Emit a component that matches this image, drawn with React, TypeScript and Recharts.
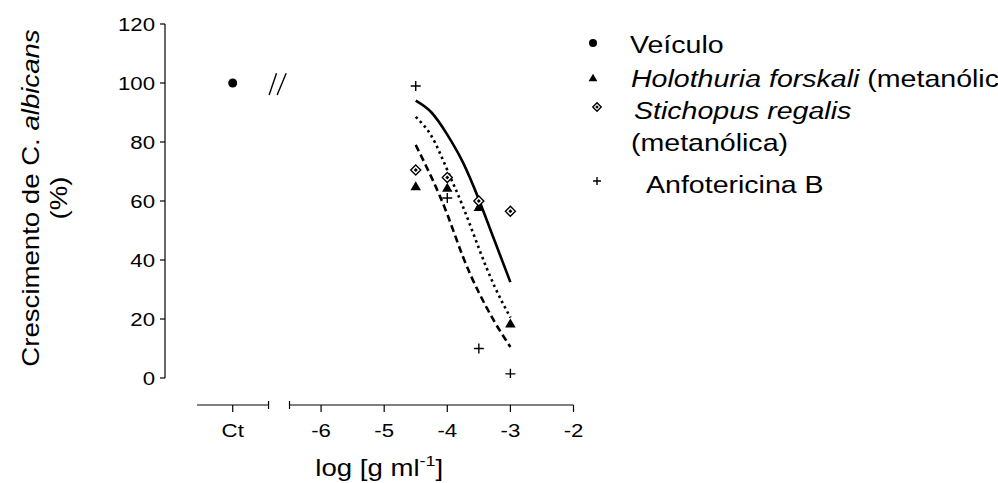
import React from "react";
import { ComposedChart, Line, Scatter, XAxis, YAxis, ReferenceLine, Label } from "recharts";

const FONT = "'Liberation Sans', Arial, Helvetica, sans-serif";
const STRETCH = 1.2; // text in the original is drawn wide

// position of the "Ct" (control) column on the log axis
const CT_X = -7.4;

const vehicle = [{ x: CT_X, y: 100 }];

const doses = [-4.5, -4, -3.5, -3];
const holothuria = [65, 64.5, 58, 18.5];
const stichopus = [70.5, 68, 60, 56.5];
const anfotericina = [99, 61, 10, 1.4];

// fitted curves
const curveX = [-4.5, -4.25, -4, -3.75, -3.5, -3.25, -3];
const curveSolid = [94, 90, 82.5, 73, 60.5, 46.5, 32.5];
const curveDotted = [88.5, 82, 70.5, 58, 44, 31, 20.5];
const curveDashed = [79, 68, 55.5, 41, 29, 19, 10.5];

const xTicks = [CT_X, -6, -5, -4, -3, -2];
const yTicks = [0, 20, 40, 60, 80, 100, 120];

const X_MIN = -8.473;
const CT_LEFT = -7.965;
const CT_RIGHT = -6.832;
const MAIN_LEFT = -6.5;
const AXIS_Y = -9.15; // detached x axis sits under y = 0
const CAP = 1.36;

const toPoints = (xs: number[], ys: number[]) => xs.map((x, i) => ({ x, y: ys[i] }));

const CircleMark = ({ cx, cy, r = 4.5 }: any) => <circle cx={cx} cy={cy} r={r} fill="#000" />;

const TriangleMark = ({ cx, cy, s = 5 }: any) => (
  <path
    d={`M${cx},${cy - s} L${cx + s * 1.05},${cy + s * 0.8} L${cx - s * 1.05},${cy + s * 0.8} Z`}
    fill="#000"
  />
);

const DiamondMark = ({ cx, cy, s = 5 }: any) => (
  <g>
    <path
      d={`M${cx},${cy - s} L${cx + s},${cy} L${cx},${cy + s} L${cx - s},${cy} Z`}
      fill="#fff"
      stroke="#000"
      strokeWidth={1.4}
    />
    <path
      d={`M${cx},${cy - s * 0.4} L${cx + s * 0.4},${cy} L${cx},${cy + s * 0.4} L${cx - s * 0.4},${cy} Z`}
      fill="#000"
    />
  </g>
);

const PlusMark = ({ cx, cy, s = 5 }: any) => (
  <path d={`M${cx - s},${cy} H${cx + s} M${cx},${cy - s} V${cy + s}`} stroke="#000" strokeWidth={1.4} />
);

const XTick = ({ x, y, payload }: any) => {
  const label = payload.value === CT_X ? "Ct" : String(payload.value);
  return (
    <g>
      <line x1={x} x2={x} y1={y + 27} y2={y + 34} stroke="#000" strokeWidth={1.2} />
      <text
        transform={`translate(${x},${y + 59}) scale(${STRETCH},1)`}
        textAnchor="middle"
        fontSize={18.5}
        fontFamily={FONT}
        fill="#000"
      >
        {label}
      </text>
    </g>
  );
};

const YTick = ({ x, y, payload }: any) => (
  <text
    transform={`translate(${x},${y}) scale(${STRETCH},1)`}
    textAnchor="end"
    dy="0.36em"
    fontSize={18.5}
    fontFamily={FONT}
    fill="#000"
  >
    {payload.value}
  </text>
);

const XTitle = ({ viewBox }: any) => {
  const cx = viewBox.x + viewBox.width / 2 + 10;
  const by = viewBox.y + 98;
  return (
    <text
      transform={`translate(${cx},${by}) scale(${STRETCH},1)`}
      textAnchor="middle"
      fontSize={23}
      fontFamily={FONT}
      fill="#000"
    >
      log [g ml
      <tspan dy={-10} fontSize={15}>-1</tspan>
      <tspan dy={10}>]</tspan>
    </text>
  );
};

const YTitle = ({ viewBox }: any) => {
  const cy = viewBox.y + viewBox.height / 2 - 3;
  return (
    <g fontSize={23} fontFamily={FONT} fill="#000">
      <text transform={`translate(38.5,${cy}) rotate(-90) scale(${STRETCH},1)`} textAnchor="middle">
        Crescimento de C. <tspan fontStyle="italic">albicans</tspan>
      </text>
      <text transform={`translate(67,${cy}) rotate(-90) scale(${STRETCH},1)`} textAnchor="middle">
        (%)
      </text>
    </g>
  );
};

const LegendText = ({ x, y, children }: any) => (
  <text
    transform={`translate(${x},${y}) scale(${STRETCH},1)`}
    fontSize={23.8}
    fontFamily={FONT}
    fill="#000"
  >
    {children}
  </text>
);

const ChartLegend = () => (
  <svg width={998} height={483} style={{ position: "absolute", left: 0, top: 0, pointerEvents: "none" }}>
    <CircleMark cx={593} cy={43} r={4} />
    <LegendText x={630} y={53}>Veículo</LegendText>
    <TriangleMark cx={593} cy={78} s={4.2} />
    <LegendText x={631} y={86.5}>
      <tspan fontStyle="italic">Holothuria forskali</tspan> (metanólica)
    </LegendText>
    <DiamondMark cx={597} cy={107} s={4.2} />
    <LegendText x={634} y={118.5}>
      <tspan fontStyle="italic">Stichopus regalis</tspan>
    </LegendText>
    <LegendText x={631} y={150.5}>(metanólica)</LegendText>
    <PlusMark cx={597} cy={181} s={4} />
    <LegendText x={646} y={193}>Anfotericina B</LegendText>
  </svg>
);

const App: React.FC = () => {
  return (
    <div
      style={{
        position: "absolute",
        left: 0,
        top: 0,
        width: 998,
        height: 483,
        overflow: "hidden",
        background: "#fff",
        fontFamily: FONT,
      }}
    >
      <ComposedChart width={998} height={483} margin={{ top: 24, right: 424.5, bottom: 0, left: 85 }}>
        <XAxis
          type="number"
          dataKey="x"
          domain={[X_MIN, -2]}
          allowDataOverflow
          ticks={xTicks}
          interval={0}
          axisLine={false}
          tickLine={false}
          tickSize={0}
          tickMargin={0}
          tick={<XTick />}
          height={105}
        >
          <Label content={(props: any) => <XTitle viewBox={props.viewBox} />} />
        </XAxis>
        <YAxis
          type="number"
          domain={[0, 120]}
          allowDataOverflow
          ticks={yTicks}
          interval={0}
          width={80}
          tickSize={5}
          tickMargin={5}
          axisLine={{ stroke: "#000", strokeWidth: 1.2 }}
          tickLine={{ stroke: "#000", strokeWidth: 1.2 }}
          tick={<YTick />}
        >
          <Label content={(props: any) => <YTitle viewBox={props.viewBox} />} />
        </YAxis>

        {/* split x axis: control segment and log-dose segment */}
        <ReferenceLine
          segment={[{ x: CT_LEFT, y: AXIS_Y }, { x: CT_RIGHT, y: AXIS_Y }]}
          stroke="#000"
          strokeWidth={1.2}
          ifOverflow="visible"
        />
        <ReferenceLine
          segment={[{ x: MAIN_LEFT, y: AXIS_Y }, { x: -2, y: AXIS_Y }]}
          stroke="#000"
          strokeWidth={1.2}
          ifOverflow="visible"
        />
        <ReferenceLine
          segment={[{ x: CT_RIGHT, y: AXIS_Y + CAP }, { x: CT_RIGHT, y: AXIS_Y - CAP }]}
          stroke="#000"
          strokeWidth={1.2}
          ifOverflow="visible"
        />
        <ReferenceLine
          segment={[{ x: MAIN_LEFT, y: AXIS_Y + CAP }, { x: MAIN_LEFT, y: AXIS_Y - CAP }]}
          stroke="#000"
          strokeWidth={1.2}
          ifOverflow="visible"
        />
        {/* "//" break mark next to the vehicle point */}
        <ReferenceLine
          segment={[{ x: -6.823, y: 95.9 }, { x: -6.706, y: 103.3 }]}
          stroke="#000"
          strokeWidth={1.4}
          ifOverflow="visible"
        />
        <ReferenceLine
          segment={[{ x: -6.696, y: 95.9 }, { x: -6.553, y: 103.3 }]}
          stroke="#000"
          strokeWidth={1.4}
          ifOverflow="visible"
        />

        <Line
          data={toPoints(curveX, curveSolid)}
          dataKey="y"
          type="natural"
          stroke="#000"
          strokeWidth={2.6}
          dot={false}
          activeDot={false}
          isAnimationActive={false}
        />
        <Line
          data={toPoints(curveX, curveDotted)}
          dataKey="y"
          type="natural"
          stroke="#000"
          strokeWidth={2.6}
          strokeDasharray="2.5 3.5"
          dot={false}
          activeDot={false}
          isAnimationActive={false}
        />
        <Line
          data={toPoints(curveX, curveDashed)}
          dataKey="y"
          type="natural"
          stroke="#000"
          strokeWidth={2.6}
          strokeDasharray="7 4"
          dot={false}
          activeDot={false}
          isAnimationActive={false}
        />

        <Scatter data={vehicle} dataKey="y" shape={(p: any) => <CircleMark cx={p.cx} cy={p.cy} />} isAnimationActive={false} />
        <Scatter
          data={toPoints(doses, holothuria)}
          dataKey="y"
          shape={(p: any) => <TriangleMark cx={p.cx} cy={p.cy} />}
          isAnimationActive={false}
        />
        <Scatter
          data={toPoints(doses, stichopus)}
          dataKey="y"
          shape={(p: any) => <DiamondMark cx={p.cx} cy={p.cy} />}
          isAnimationActive={false}
        />
        <Scatter
          data={toPoints(doses, anfotericina)}
          dataKey="y"
          shape={(p: any) => <PlusMark cx={p.cx} cy={p.cy} />}
          isAnimationActive={false}
        />
      </ComposedChart>
      <ChartLegend />
    </div>
  );
};

export default App;
